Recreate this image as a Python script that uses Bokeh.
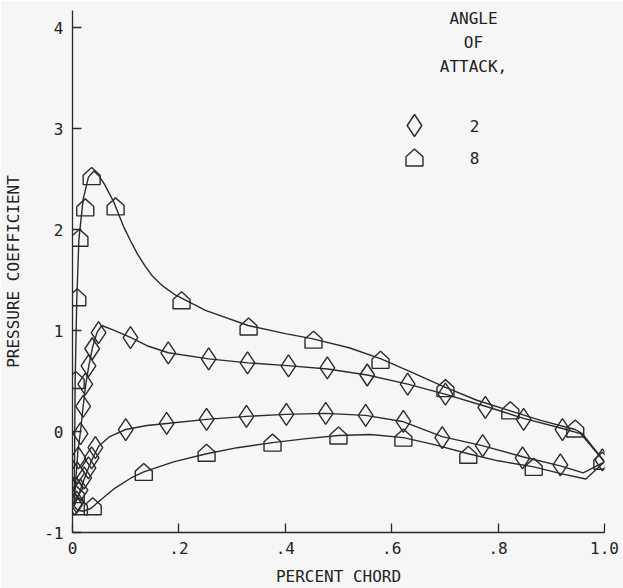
from bokeh.plotting import figure
from bokeh.models import Label, Range1d, FixedTicker
from bokeh.embed import file_html
from bokeh.resources import INLINE

# ---------------- data ----------------
# angle of attack 2 deg (diamonds)
a2_upper_x = [0.004, 0.006, 0.009, 0.011, 0.015, 0.020, 0.024, 0.030, 0.037, 0.049, 0.109, 0.180,
              0.256, 0.329, 0.406, 0.479, 0.554, 0.630, 0.701, 0.776, 0.848, 0.921, 0.996]
a2_upper_y = [-0.72, -0.56, -0.41, -0.26, -0.02, 0.25, 0.47, 0.65, 0.82, 0.98, 0.93, 0.78,
              0.72, 0.68, 0.65, 0.63, 0.56, 0.47, 0.37, 0.24, 0.12, 0.02, -0.28]
a2_lower_x = [0.008, 0.015, 0.022, 0.030, 0.036, 0.043, 0.100, 0.177, 0.252, 0.327, 0.402, 0.476,
              0.551, 0.622, 0.695, 0.771, 0.846, 0.917]
a2_lower_y = [-0.70, -0.58, -0.46, -0.36, -0.26, -0.16, 0.02, 0.08, 0.12, 0.15, 0.17, 0.18,
              0.16, 0.10, -0.06, -0.14, -0.26, -0.33]

# angle of attack 8 deg (houses)
a8_upper_x = [0.006, 0.009, 0.013, 0.024, 0.036, 0.081, 0.205, 0.331, 0.453, 0.579, 0.701, 0.823,
              0.945, 0.996]
a8_upper_y = [0.51, 1.33, 1.92, 2.22, 2.53, 2.23, 1.30, 1.04, 0.91, 0.71, 0.43, 0.21, 0.03, -0.29]
a8_lower_x = [0.006, 0.012, 0.038, 0.134, 0.252, 0.376, 0.500, 0.622, 0.744, 0.867]
a8_lower_y = [-0.62, -0.74, -0.74, -0.40, -0.21, -0.11, -0.04, -0.06, -0.23, -0.35]

# faired curves
c8u_x = [0.003, 0.004, 0.005, 0.008, 0.012, 0.020, 0.030, 0.040, 0.050, 0.060, 0.077, 0.096,
         0.110, 0.122, 0.135, 0.150, 0.170, 0.194, 0.250, 0.330, 0.400, 0.450, 0.520, 0.580,
         0.640, 0.700, 0.760, 0.820, 0.880, 0.945, 0.958, 1.000]
c8u_y = [-0.74, -0.20, 0.50, 1.30, 1.90, 2.30, 2.52, 2.58, 2.53, 2.45, 2.28, 2.03,
         1.88, 1.76, 1.65, 1.54, 1.44, 1.35, 1.20, 1.05, 0.97, 0.92, 0.83, 0.72,
         0.58, 0.44, 0.31, 0.21, 0.11, 0.02, -0.02, -0.30]
c8l_x = [0.003, 0.010, 0.020, 0.035, 0.050, 0.080, 0.110, 0.134, 0.190, 0.252, 0.310, 0.376, 0.440,
         0.500, 0.560, 0.622, 0.680, 0.744, 0.800, 0.867, 0.920, 0.965, 1.000]
c8l_y = [-0.74, -0.78, -0.79, -0.76, -0.69, -0.56, -0.46, -0.40, -0.30, -0.22, -0.16, -0.11, -0.07,
         -0.04, -0.03, -0.06, -0.13, -0.22, -0.29, -0.35, -0.42, -0.47, -0.30]
c2u_x = [0.003, 0.006, 0.010, 0.015, 0.020, 0.025, 0.031, 0.038, 0.046, 0.055, 0.075, 0.110, 0.140,
         0.180, 0.256, 0.330, 0.410, 0.480, 0.554, 0.630, 0.700, 0.776, 0.848, 0.921, 0.955, 1.000]
c2u_y = [-0.74, -0.50, -0.20, 0.00, 0.25, 0.47, 0.66, 0.84, 0.98, 1.05, 1.01, 0.93, 0.85,
         0.78, 0.72, 0.68, 0.65, 0.62, 0.56, 0.47, 0.37, 0.25, 0.13, 0.03, -0.02, -0.30]
c2l_x = [0.003, 0.010, 0.020, 0.030, 0.040, 0.050, 0.070, 0.100, 0.140, 0.177, 0.252, 0.327, 0.400,
         0.476, 0.551, 0.620, 0.695, 0.770, 0.846, 0.917, 0.960, 1.000]
c2l_y = [-0.74, -0.65, -0.50, -0.36, -0.24, -0.14, -0.05, 0.02, 0.06, 0.08, 0.12, 0.15, 0.17,
         0.18, 0.16, 0.10, -0.05, -0.14, -0.25, -0.34, -0.41, -0.30]

x_ticks = [0, 0.2, 0.4, 0.6, 0.8, 1.0]
x_tick_labels = ["0", ".2", ".4", ".6", ".8", "1.0"]
y_ticks = [-1, 0, 1, 2, 3, 4]
y_tick_labels = ["-1", "0", "1", "2", "3", "4"]

legend_title = ["ANGLE", "OF", "ATTACK,"]
legend_labels = ["2", "8"]

# ---------------- layout / style ----------------
W, H = 623, 588
BL, BR, BT, BB = 72, 19, 10, 56
FW, FH = W - BL - BR, H - BT - BB
XR = (0.0, 1.0)
YR = (-1.0, 4.17)
PX_X = FW / (XR[1] - XR[0])
PX_Y = FH / (YR[1] - YR[0])
INK = "#2b2b2b"
BG = "#f6f6f6"
FONT = "DejaVu Sans Mono"


def sx_to_data(px):
    return XR[0] + (px - BL) / PX_X


def sy_to_data(py):
    return YR[1] - (py - BT) / PX_Y


def house_shapes(xs, ys, half=8.5):
    pxs, pys = [], []
    for x, y in zip(xs, ys):
        hw = half / PX_X
        b = -half / PX_Y
        s = 0.8 / PX_Y
        a = half / PX_Y
        pxs.append([x - hw, x + hw, x + hw, x, x - hw])
        pys.append([y + b, y + b, y + s, y + a, y + s])
    return pxs, pys


p = figure(width=W, height=H, output_backend="svg", toolbar_location=None,
           x_range=Range1d(*XR), y_range=Range1d(*YR),
           min_border_left=BL, min_border_right=BR, min_border_top=BT, min_border_bottom=BB)
p.background_fill_color = BG
p.border_fill_color = BG
p.outline_line_color = None
p.grid.visible = False

for ax in (p.xaxis[0], p.yaxis[0]):
    ax.axis_line_color = INK
    ax.axis_line_width = 1.3
    ax.major_tick_line_color = INK
    ax.major_tick_line_width = 1.3
    ax.major_tick_in = 9
    ax.major_tick_out = 0
    ax.minor_tick_line_color = None
    ax.major_label_text_font = FONT
    ax.major_label_text_font_size = "16px"
    ax.major_label_text_color = "#222222"
    ax.axis_label_text_font = FONT
    ax.axis_label_text_font_size = "16px"
    ax.axis_label_text_font_style = "normal"
    ax.axis_label_text_color = "#222222"

p.xaxis.ticker = FixedTicker(ticks=x_ticks)
p.xaxis.major_label_overrides = dict(zip(x_ticks, x_tick_labels))
p.xaxis.major_label_standoff = 9
p.xaxis.axis_label = "PERCENT CHORD"
p.xaxis.axis_label_standoff = 10

p.yaxis.ticker = FixedTicker(ticks=y_ticks)
p.yaxis.major_label_overrides = dict(zip(y_ticks, y_tick_labels))
p.yaxis.major_label_standoff = 9
p.yaxis.axis_label = "PRESSURE COEFFICIENT"
p.yaxis.axis_label_standoff = 18

# curves
for cx, cy in ((c8u_x, c8u_y), (c8l_x, c8l_y), (c2u_x, c2u_y), (c2l_x, c2l_y)):
    p.line(cx, cy, line_color=INK, line_width=1.4)

# diamonds (2 deg)
for mx, my in ((a2_upper_x, a2_upper_y), (a2_lower_x, a2_lower_y)):
    p.scatter(mx, my, marker="diamond", size=22, fill_color=None, line_color=INK, line_width=1.4)

# houses (8 deg)
hx, hy = house_shapes(a8_upper_x + a8_lower_x, a8_upper_y + a8_lower_y)
p.patches(hx, hy, fill_color=None, line_color=INK, line_width=1.4)

# legend
title_px = [18, 42, 66]
for txt, py in zip(legend_title, title_px):
    p.add_layout(Label(x=sx_to_data(473), y=sy_to_data(py), text=txt, text_align="center",
                       text_baseline="middle", text_font=FONT, text_font_size="16px",
                       text_color="#222222"))
key_x = sx_to_data(414)
p.scatter([key_x], [sy_to_data(125)], marker="diamond", size=22, fill_color=None,
          line_color=INK, line_width=1.4)
lx, ly = house_shapes([key_x], [sy_to_data(157)])
p.patches(lx, ly, fill_color=None, line_color=INK, line_width=1.4)
for txt, py in zip(legend_labels, [125, 157]):
    p.add_layout(Label(x=sx_to_data(474), y=sy_to_data(py), text=txt, text_align="center",
                       text_baseline="middle", text_font=FONT, text_font_size="16px",
                       text_color="#222222"))

open("out.html", "w").write(file_html(p, INLINE))
